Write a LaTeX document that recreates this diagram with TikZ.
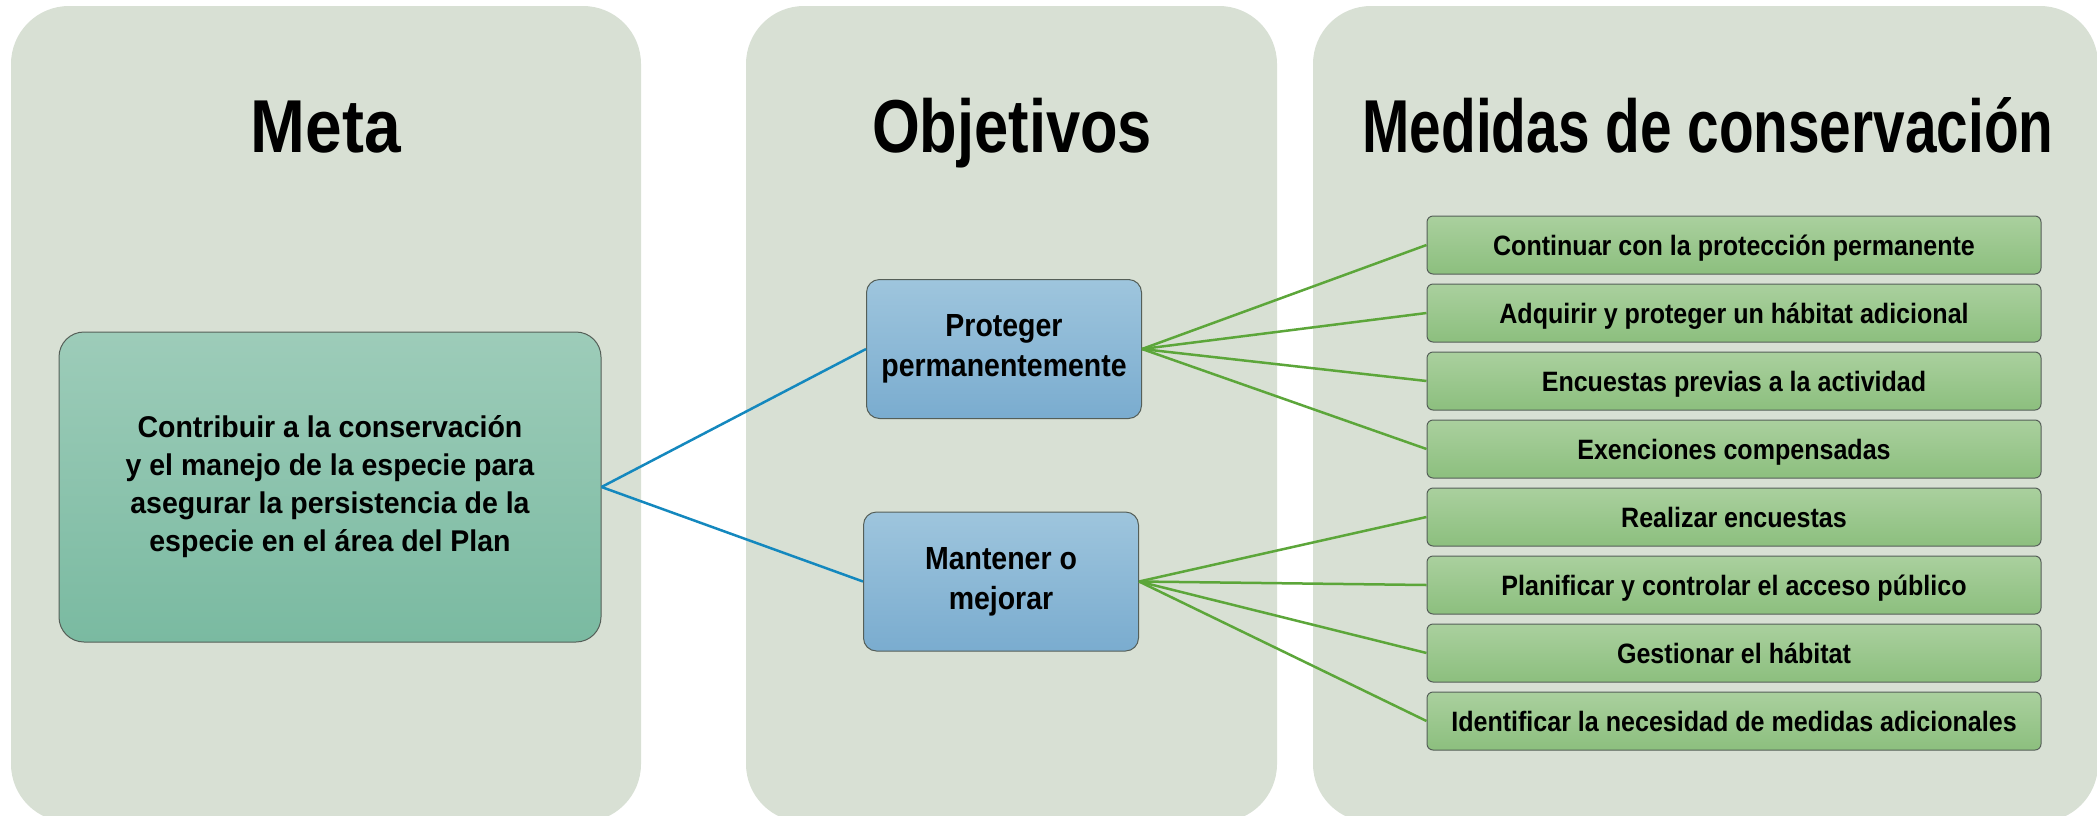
\documentclass[tikz,border=0pt]{standalone}
\usepackage{fontspec}
\usetikzlibrary{shadings}
\setmainfont{Liberation Sans}
\newfontfamily\goalfont{Liberation Sans}[FakeStretch=0.95]
\newfontfamily\objfont{Liberation Sans}[FakeStretch=0.89]
\newfontfamily\condfont{Liberation Sans}[FakeStretch=0.895]
\newfontfamily\titlefont{Liberation Sans}
\definecolor{panel}{RGB}{216,224,212}
\definecolor{goaltop}{RGB}{157,204,185}
\definecolor{goalbot}{RGB}{122,186,161}
\definecolor{objtop}{RGB}{158,197,221}
\definecolor{objbot}{RGB}{122,172,207}
\definecolor{meatop}{RGB}{170,208,158}
\definecolor{meabot}{RGB}{140,191,126}
\definecolor{bluel}{RGB}{20,136,190}
\definecolor{greenl}{RGB}{92,166,58}
\definecolor{edge}{RGB}{85,95,88}
\tikzset{
 panelbox/.style={fill=panel, rounded corners=58pt},
 goalbox/.style={draw=edge, line width=1pt, rounded corners=25pt, top color=goaltop, bottom color=goalbot,
   minimum width=542pt, minimum height=310pt, inner sep=0pt, align=center,
   font=\goalfont\bfseries\fontsize{30}{38}\selectfont},
 objbox/.style={draw=edge, line width=1pt, rounded corners=13pt, top color=objtop, bottom color=objbot,
   minimum width=275pt, minimum height=139pt, inner sep=0pt, align=center,
   font=\objfont\bfseries\fontsize{32}{40}\selectfont},
 meabox/.style={draw=edge, line width=1pt, rounded corners=6pt, top color=meatop, bottom color=meabot,
   minimum width=614pt, minimum height=58pt, inner sep=0pt, text height=20pt, text depth=0pt,
   font=\condfont\bfseries\fontsize{28}{34}\selectfont},
 titletext/.style={anchor=base, inner sep=0pt, font=\titlefont\bfseries\fontsize{75}{90}\selectfont},
 blueline/.style={draw=bluel, line width=2.5pt},
 greenline/.style={draw=greenl, line width=2.5pt},
}
\begin{document}
\begin{tikzpicture}[x=1pt, y=-1pt]
\useasboundingbox (0,0) rectangle (2097,815);
\clip (0,0) rectangle (2097,815);
\fill[white] (0,0) rectangle (2097,815);
% panels
\path[panelbox] (11,6) rectangle (641,822);
\path[panelbox] (746,6) rectangle (1277,822);
\path[panelbox] (1313,6) rectangle (2098,822);
% titles
\node[titletext] (tmeta) at (326,152) {\scalebox{0.878}[1]{Meta}};
\node[titletext] (tobj) at (1012,152) {\scalebox{0.819}[1]{Objetivos}};
\node[titletext] (tmed) at (1708,152) {\scalebox{0.757}[1]{Medidas de conservación}};
% boxes
\node[goalbox] (goal) at (330,487) {Contribuir a la conservación\\y el manejo de la especie para\\asegurar la persistencia de la\\especie en el área del Plan};
\node[objbox] (prot) at (1004,349) {Proteger\\permanentemente};
\node[objbox] (mant) at (1001,581.5) {Mantener o\\mejorar};
\node[meabox] (m1) at (1734,245) {Continuar con la protección permanente};
\node[meabox] (m2) at (1734,313) {Adquirir y proteger un hábitat adicional};
\node[meabox] (m3) at (1734,381) {Encuestas previas a la actividad};
\node[meabox] (m4) at (1734,449) {Exenciones compensadas};
\node[meabox] (m5) at (1734,517) {Realizar encuestas};
\node[meabox] (m6) at (1734,585) {Planificar y controlar el acceso público};
\node[meabox] (m7) at (1734,653) {Gestionar el hábitat};
\node[meabox] (m8) at (1734,721) {Identificar la necesidad de medidas adicionales};
% connectors
\draw[blueline] (goal.east) -- (prot.west);
\draw[blueline] (goal.east) -- (mant.west);
\foreach \m in {m1,m2,m3,m4} {\draw[greenline] (prot.east) -- (\m.west);}
\foreach \m in {m5,m6,m7,m8} {\draw[greenline] (mant.east) -- (\m.west);}
\end{tikzpicture}
\end{document}
